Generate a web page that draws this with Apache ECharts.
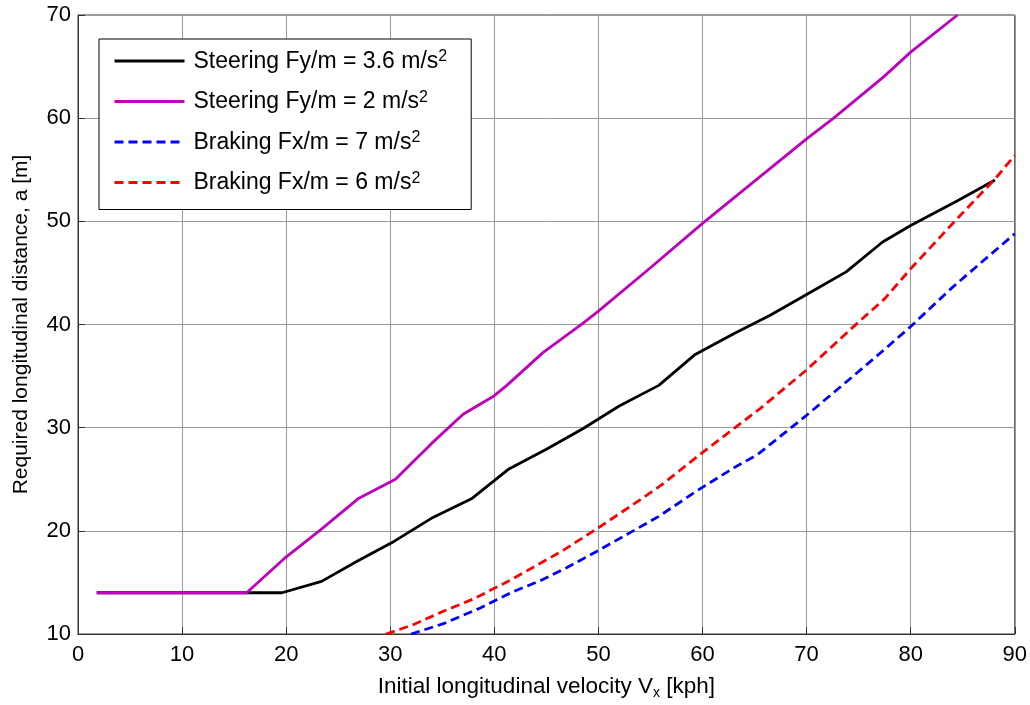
<!DOCTYPE html>
<html>
<head>
<meta charset="utf-8">
<script src="https://cdn.jsdelivr.net/npm/echarts@6/dist/echarts.min.js"></script>
<style>
html,body{margin:0;padding:0;background:#fff;}
#c{width:1030px;height:705px;}
</style>
</head>
<body>
<div id="c"></div>
<script>
// Data: [velocity kph, distance m]
const seriesNames = [
  'Steering Fy/m = 3.6 m/s',
  'Steering Fy/m = 2 m/s',
  'Braking Fx/m = 7 m/s',
  'Braking Fx/m = 6 m/s'
];
const steer36 = [[1.8,14],[19.6,14],[23.4,15.1],[26.9,17.1],[30.4,19],[34.1,21.3],[37.8,23.1],[41.4,26],[45,27.9],[48.5,29.9],[52,32.1],[55.8,34.1],[59.3,37.1],[63,39.1],[66.5,40.9],[70,42.9],[73.8,45.1],[77.3,48],[80,49.6],[84.5,52],[88.1,54]];
const steer2 = [[1.8,14],[16.2,14],[19.8,17.3],[23.3,20.1],[26.9,23.1],[30.5,25],[34,28.5],[37,31.3],[40,33.1],[41.2,34.1],[44.7,37.3],[48.5,40.1],[50,41.3],[55,45.5],[60,49.8],[65,53.9],[70,58],[72.6,60],[77.4,64],[80,66.4],[84.5,70]];
const brake7 = [[32,10],[35.1,11],[38.6,12.5],[41.8,14.1],[44.5,15.2],[46.9,16.4],[50,18.1],[53,19.8],[55.8,21.4],[59.5,23.9],[63,26.1],[65.3,27.4],[70,31.2],[74.6,35.1],[77.5,37.6],[80,39.8],[83.9,43.5],[87,46.2],[90,48.8]];
const brake6 = [[29.6,10],[32.2,10.9],[35.1,12.2],[38,13.4],[41.5,15.2],[44.5,16.9],[46.6,18.1],[50,20.3],[54,23],[56,24.4],[59.5,27.2],[63,29.9],[65.6,31.9],[70,35.6],[74.3,39.6],[77.5,42.5],[80,45.4],[84.6,50.4],[88.1,54.1],[90,56.4]];
const xRange = [0, 90, 10];
const yRange = [10, 70, 10];

const FONT = 'Liberation Sans, Arial, Helvetica, sans-serif';
const chart = echarts.init(document.getElementById('c'), null, {renderer:'canvas'});
const axisCommon = {
  axisLine:{show:true, onZero:false, lineStyle:{color:'#333', width:1}},
  axisTick:{show:true, inside:true, length:7, lineStyle:{color:'#333'}},
  splitLine:{show:true, lineStyle:{color:'#9a9a9a', width:1}},
  axisLabel:{color:'#000', fontSize:22, fontFamily:FONT}
};
chart.setOption({
  backgroundColor:'#fff',
  animation:false,
  grid:{left:78, right:14, top:15, bottom:67, show:true, borderColor:'#333', borderWidth:1},
  xAxis:Object.assign({}, axisCommon, {
    type:'value', min:xRange[0], max:xRange[1], interval:xRange[2],
    name:'Initial longitudinal velocity V{sub|x} [kph]',
    nameLocation:'middle', nameGap:39,
    nameTextStyle:{color:'#000', fontSize:22.5, fontFamily:FONT,
      rich:{sub:{fontSize:14, fontFamily:FONT, color:'#000', verticalAlign:'bottom', padding:[13,0,0,0]}}},
    axisLabel:Object.assign({}, axisCommon.axisLabel, {margin:10})
  }),
  yAxis:Object.assign({}, axisCommon, {
    type:'value', min:yRange[0], max:yRange[1], interval:yRange[2],
    name:'Required longitudinal distance, a [m]',
    nameLocation:'middle', nameGap:46,
    nameTextStyle:{color:'#000', fontSize:21, fontFamily:FONT},
    axisLabel:Object.assign({}, axisCommon.axisLabel, {margin:7})
  }),
  legend:{
    show:true, orient:'vertical', left:99, top:39,
    backgroundColor:'#fff', borderColor:'#000', borderWidth:1,
    padding:[10,24,15,14],
    itemWidth:70, itemHeight:14, itemGap:16.5,
    itemStyle:{opacity:0},
    lineStyle:{width:3},
    data:seriesNames,
    formatter:function(n){ return '{t|' + n + '}{sup|2}'; },
    textStyle:{color:'#000', fontSize:23, fontFamily:FONT, padding:[0,0,0,4],
      rich:{
        t:{fontSize:23, fontFamily:FONT, color:'#000', lineHeight:24, verticalAlign:'bottom'},
        sup:{fontSize:16, fontFamily:FONT, color:'#000', verticalAlign:'top', lineHeight:24, padding:[0,0,4,0]}
      }}
  },
  series:[
    {name:seriesNames[0], type:'line', data:steer36, symbol:'none', lineStyle:{color:'#000000', width:2.8}, itemStyle:{color:'#000000'}, z:3},
    {name:seriesNames[1], type:'line', data:steer2, symbol:'none', lineStyle:{color:'#bf00bf', width:2.8}, itemStyle:{color:'#bf00bf'}, z:4},
    {name:seriesNames[2], type:'line', data:brake7, symbol:'none', lineStyle:{color:'#0000ff', width:2.8, type:[9,5]}, itemStyle:{color:'#0000ff'}, z:3},
    {name:seriesNames[3], type:'line', data:brake6, symbol:'none', lineStyle:{color:'#ff0000', width:2.8, type:[9,5]}, itemStyle:{color:'#ff0000'}, z:3}
  ]
});
</script>
</body>
</html>
